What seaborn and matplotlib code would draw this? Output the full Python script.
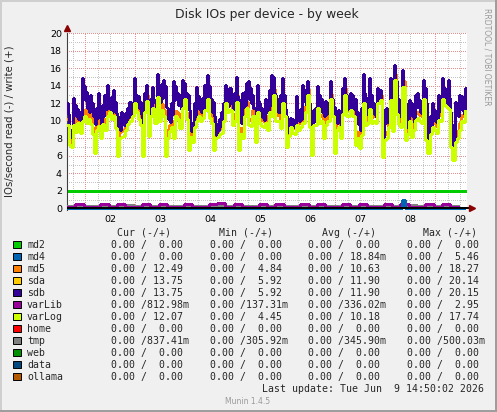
# disk_io_week.py
# Munin style "Disk IOs per device - by week" graph, redrawn with seaborn

import numpy as np
import pandas as pd
import matplotlib
matplotlib.use("Agg")
import matplotlib.pyplot as plt
from matplotlib.patches import Rectangle
import seaborn as sns

# ---- values ----
# sdb: one pair of readings per hour (peak and dip inside that hour),
# first hour starts at about 15:20 on the 1st
start_day = 1.64

sdb_peak = [
    12.0, 8.8, 9.0, 12.6, 11.8, 11.4, 11.0, 14.9, 14.0, 13.3, 12.5, 13.0, 12.0, 10.8, 11.5, 13.2, 10.3, 11.8, 13.0, 14.1, 12.5, 12.7, 13.5, 12.2,
    10.5, 10.0, 11.0, 10.3, 10.9, 11.5, 12.2, 11.6, 14.9, 13.0, 12.8, 12.2, 8.0, 13.2, 14.1, 11.0, 12.5, 13.9, 12.4, 15.4, 13.8, 14.2, 14.7, 14.0,
    11.5, 11.0, 12.0, 14.5, 14.0, 13.2, 13.0, 14.7, 14.3, 13.2, 13.0, 9.5, 9.8, 12.0, 13.9, 12.8, 12.4, 12.6, 14.1, 15.2, 14.0, 12.5, 12.2, 9.0,
    9.6, 10.2, 11.0, 12.0, 14.1, 13.0, 13.7, 12.8, 13.2, 15.0, 12.5, 11.0, 13.2, 13.3, 14.3, 14.5, 13.8, 13.0, 11.4, 14.1, 12.0, 11.5, 11.0, 12.5,
    12.4, 13.5, 15.2, 15.0, 13.0, 12.5, 13.0, 14.85, 13.0, 10.5, 9.0, 10.3, 10.2, 10.0, 12.8, 11.2, 11.4, 14.1, 13.5, 14.5, 12.0, 8.0, 11.2, 11.5,
    14.0, 13.0, 12.5, 12.2, 12.3, 12.0, 14.5, 12.5, 11.6, 11.0, 11.2, 10.2, 13.7, 14.85, 13.0, 12.6, 13.2, 13.0, 12.5, 11.0, 10.0, 11.5, 15.4, 12.0,
    12.6, 14.85, 13.0, 12.0, 11.5, 13.7, 13.5, 8.0, 11.2, 11.5, 10.9, 14.85, 11.2, 16.4, 14.5, 12.5, 11.6, 15.8, 12.0, 10.0, 12.4, 12.0, 11.0, 13.0,
    13.2, 12.4, 12.0, 14.7, 13.8, 8.1, 10.5, 12.0, 11.2, 11.0, 13.0, 12.5, 14.85, 13.7, 13.2, 14.7, 11.0, 7.0, 12.2, 12.0, 13.0, 12.8, 12.0, 13.7,
]
sdb_dip = [
    10.8, 8.2, 8.6, 10.9, 10.5, 10.2, 9.9, 12.6, 12.4, 11.5, 11.0, 11.6, 10.6, 9.6, 10.3, 11.2, 9.4, 10.5, 11.4, 12.2, 11.3, 11.0, 11.8, 10.9,
    9.2, 9.0, 9.8, 9.5, 9.9, 10.4, 10.8, 10.6, 12.8, 11.8, 11.5, 10.8, 7.6, 11.6, 12.3, 9.8, 11.2, 12.2, 11.0, 13.2, 12.2, 12.6, 12.8, 11.6,
    10.2, 9.9, 10.8, 12.4, 12.5, 11.8, 11.4, 12.8, 12.6, 11.8, 11.2, 8.8, 9.0, 10.6, 12.2, 11.4, 11.0, 11.2, 12.4, 13.0, 12.4, 11.0, 10.6, 8.4,
    8.9, 9.4, 9.9, 10.8, 12.2, 11.7, 12.0, 11.4, 11.8, 12.8, 11.0, 9.8, 11.6, 11.8, 12.6, 12.5, 12.0, 11.5, 10.2, 12.3, 10.8, 10.4, 10.1, 11.0,
    11.0, 11.8, 13.0, 13.2, 11.6, 11.0, 11.4, 12.6, 11.4, 9.2, 8.6, 9.4, 9.3, 9.2, 11.2, 10.0, 10.2, 12.3, 11.8, 12.6, 10.6, 7.5, 10.0, 10.2,
    12.2, 11.4, 11.0, 10.6, 10.8, 10.9, 12.6, 11.0, 10.4, 9.8, 10.0, 9.4, 12.0, 13.0, 11.6, 11.2, 11.8, 11.4, 10.8, 9.6, 9.0, 10.2, 13.2, 10.8,
    11.2, 12.8, 11.4, 10.8, 10.4, 12.0, 12.2, 7.4, 9.8, 10.2, 9.8, 12.6, 10.0, 14.2, 12.6, 11.0, 10.4, 13.6, 10.4, 9.2, 11.0, 10.6, 9.9, 11.6,
    11.6, 11.0, 10.8, 12.6, 12.0, 7.6, 9.4, 10.6, 10.0, 9.8, 11.4, 11.0, 12.8, 12.0, 11.8, 12.6, 9.6, 6.6, 10.8, 10.6, 11.4, 11.2, 10.8, 12.0,
]

# varLog and md5: one reading per hour
varLog = [
    9.5, 7.2, 7.0, 9.5, 8.7, 9.8, 8.6, 10.0, 10.5, 9.8, 10.2, 9.6, 8.5, 6.3, 9.0, 9.4, 8.0, 9.6, 9.0, 10.5, 11.0, 10.2, 10.5, 9.2,
    6.0, 8.0, 8.2, 8.3, 9.0, 9.6, 10.0, 10.5, 12.0, 11.0, 10.2, 9.5, 6.0, 11.0, 12.3, 8.3, 10.5, 11.5, 9.8, 12.7, 10.0, 11.2, 10.5, 6.0,
    8.0, 8.8, 9.3, 8.0, 10.5, 10.2, 9.2, 11.5, 12.5, 10.2, 6.7, 8.2, 7.6, 9.3, 10.0, 10.5, 10.0, 10.3, 11.2, 12.5, 10.3, 9.8, 6.7, 8.0,
    8.2, 8.5, 8.6, 10.0, 12.0, 11.0, 11.2, 9.5, 10.0, 12.2, 6.7, 8.5, 8.0, 10.5, 11.5, 9.5, 9.4, 10.5, 7.6, 11.0, 9.8, 9.4, 9.3, 9.8,
    9.0, 11.0, 10.5, 13.0, 10.0, 10.0, 9.2, 12.0, 10.5, 7.0, 8.3, 9.3, 8.6, 8.5, 9.5, 9.0, 9.3, 9.8, 11.0, 13.0, 9.3, 6.1, 9.5, 9.5,
    11.5, 9.8, 10.0, 8.0, 9.5, 10.0, 12.5, 10.5, 6.3, 9.0, 9.3, 8.0, 10.8, 13.0, 10.5, 10.6, 11.2, 10.5, 7.2, 8.0, 6.9, 8.4, 12.0, 9.5,
    9.7, 11.3, 9.7, 10.0, 9.8, 12.0, 12.4, 5.9, 7.8, 8.0, 9.3, 12.4, 8.8, 14.7, 10.8, 9.6, 9.3, 13.9, 7.8, 8.5, 10.0, 8.2, 9.0, 10.1,
    10.3, 10.0, 9.8, 12.5, 7.8, 6.3, 8.5, 9.3, 9.0, 8.6, 10.1, 10.0, 12.5, 11.8, 11.6, 11.4, 7.0, 5.5, 7.6, 8.0, 9.0, 10.0, 9.9, 11.2,
]
md5 = [
    10.2, 7.8, 7.6, 10.4, 9.3, 10.5, 9.4, 10.8, 11.2, 10.4, 10.9, 10.3, 9.2, 7.0, 9.7, 10.1, 8.7, 10.3, 9.8, 11.3, 11.6, 10.9, 11.2, 9.9,
    6.8, 8.7, 8.9, 9.0, 9.6, 10.3, 10.8, 11.1, 12.9, 11.7, 11.0, 10.1, 6.8, 11.8, 13.0, 9.0, 11.1, 12.2, 10.6, 13.4, 10.8, 11.9, 11.2, 6.9,
    8.9, 9.5, 10.0, 8.8, 11.1, 10.9, 10.0, 12.2, 13.1, 10.9, 7.4, 8.8, 8.4, 10.0, 10.8, 11.1, 10.7, 11.0, 11.8, 13.2, 11.0, 10.5, 7.5, 8.6,
    8.8, 9.2, 9.3, 10.7, 12.7, 11.7, 11.9, 10.2, 10.8, 12.9, 7.5, 9.2, 8.8, 11.2, 12.1, 10.2, 10.1, 11.2, 8.4, 11.7, 10.5, 10.1, 10.0, 10.6,
    9.8, 11.7, 11.3, 13.6, 10.8, 10.7, 9.9, 12.7, 11.2, 7.8, 8.9, 9.9, 9.3, 9.2, 10.2, 9.7, 10.0, 10.6, 11.7, 13.6, 10.0, 6.9, 10.2, 10.2,
    12.2, 10.5, 10.7, 8.8, 10.2, 10.8, 13.1, 11.2, 7.1, 9.7, 10.0, 8.7, 11.5, 13.7, 11.2, 11.3, 11.9, 11.2, 8.0, 8.7, 7.6, 9.1, 12.8, 10.2,
    10.4, 12.0, 10.4, 10.7, 10.5, 12.6, 13.0, 6.7, 8.5, 8.7, 10.0, 13.1, 9.6, 15.3, 11.6, 10.3, 10.0, 14.6, 8.6, 9.2, 10.7, 9.0, 9.7, 10.9,
    11.0, 10.7, 10.5, 13.2, 8.6, 7.0, 9.2, 10.0, 9.7, 9.4, 10.8, 10.7, 13.2, 12.5, 12.3, 12.1, 7.8, 6.2, 8.3, 8.8, 9.8, 10.7, 10.6, 11.9,
]

# small ones near zero, 4-hourly samples
varLib = [
    0.20, 0.45, 0.20, 0.20, 0.45, 0.20, 0.45, 0.20, 0.20, 0.45, 0.20, 0.45,
    0.20, 0.20, 0.45, 0.20, 0.20, 0.45, 0.55, 0.20, 0.45, 0.20, 0.20, 0.45,
    0.20, 0.45, 0.20, 0.20, 0.45, 0.20, 0.45, 0.20, 0.20, 0.45, 0.20, 0.45,
    0.20, 0.20, 0.45, 0.20, 0.45, 0.20, 0.20, 0.45, 0.20, 0.45, 0.20, 0.20,
]
tmp = [
    0.31, 0.32, 0.31, 0.30, 0.32, 0.31, 0.31, 0.33, 0.31, 0.30, 0.32, 0.31,
    0.31, 0.32, 0.31, 0.31, 0.30, 0.32, 0.33, 0.31, 0.31, 0.32, 0.31, 0.30,
    0.31, 0.32, 0.31, 0.31, 0.33, 0.31, 0.30, 0.32, 0.31, 0.31, 0.32, 0.31,
    0.31, 0.30, 0.32, 0.31, 0.31, 0.33, 0.31, 0.32, 0.31, 0.31, 0.30, 0.32,
]
# md4 only shows one short spike (hour index, value)
md4_hour = [0, 160, 161, 162, 191]
md4_val = [0.0, 0.0, 0.95, 0.0, 0.0]

limit_line = 2.0

days = [2, 3, 4, 5, 6, 7, 8, 9]
day_labels = ["02", "03", "04", "05", "06", "07", "08", "09"]

# legend table
names = ["md2", "md4", "md5", "sda", "sdb", "varLib", "varLog",
         "home", "tmp", "web", "data", "ollama"]
colors = ["#00cc00", "#0066b3", "#ff8000", "#ffcc00", "#330099", "#990099",
          "#ccff00", "#ff0000", "#808080", "#008f00", "#00487d", "#b35a00"]
cur = ["0.00 /  0.00", "0.00 /  0.00", "0.00 / 12.49", "0.00 / 13.75",
       "0.00 / 13.75", "0.00 /812.98m", "0.00 / 12.07", "0.00 /  0.00",
       "0.00 /837.41m", "0.00 /  0.00", "0.00 /  0.00", "0.00 /  0.00"]
mins = ["0.00 /  0.00", "0.00 /  0.00", "0.00 /  4.84", "0.00 /  5.92",
        "0.00 /  5.92", "0.00 /137.31m", "0.00 /  4.45", "0.00 /  0.00",
        "0.00 /305.92m", "0.00 /  0.00", "0.00 /  0.00", "0.00 /  0.00"]
avgs = ["0.00 /  0.00", "0.00 / 18.84m", "0.00 / 10.63", "0.00 / 11.90",
        "0.00 / 11.90", "0.00 /336.02m", "0.00 / 10.18", "0.00 /  0.00",
        "0.00 /345.90m", "0.00 /  0.00", "0.00 /  0.00", "0.00 /  0.00"]
maxs = ["0.00 /  0.00", "0.00 /  5.46", "0.00 / 18.27", "0.00 / 20.14",
        "0.00 / 20.15", "0.00 /  2.95", "0.00 / 17.74", "0.00 /  0.00",
        "0.00 /500.03m", "0.00 /  0.00", "0.00 /  0.00", "0.00 /  0.00"]
headers = ["Cur (-/+)", "Min (-/+)", "Avg (-/+)", "Max (-/+)"]

# ---- figure ----
sns.set_theme(style="white")
plt.rcParams['font.family'] = ['DejaVu Sans']
mono = "DejaVu Sans Mono"

W, H = 497, 412
fig = plt.figure(figsize=(W / 100, H / 100), dpi=100, facecolor="#f0f0f0")


def fx(x):
    return x / W


def fy(y):
    return 1 - y / H


ymin, ymax = -0.2, 20.0
px_per_unit = 8.75
top_px = 33.3
bot_px = 208.3 - ymin * px_per_unit
ax = fig.add_axes([fx(67), fy(bot_px), 400 / W, (bot_px - top_px) / H])
ax.set_facecolor("white")

col = dict(zip(names, colors))
lw_data = 0.8

# grid, rrdtool style dotted lines
grid_gray = "#c4c4c4"
grid_red = "#e88e8e"
for v in range(1, 21):
    ax.axhline(v, color=grid_red if v % 2 == 0 else grid_gray, lw=0.72,
               ls=(0, (1, 2)), antialiased=False, zorder=1)
for q in np.arange(1.75, 9.64, 0.25):
    is_day = abs(q - round(q)) < 1e-6
    ax.axvline(q, color=grid_red if is_day else grid_gray, lw=0.72,
               ls=(0, (1, 2)), antialiased=False, zorder=1)

ax.axhline(limit_line, color="#00cc00", lw=0.8, antialiased=False, zorder=2)

# main series
n = len(sdb_peak)
half = start_day + np.arange(2 * n) / 48
sdb = np.column_stack([sdb_peak, sdb_dip]).ravel()
halfhourly = pd.DataFrame({"t": half, "sda": sdb, "sdb": sdb})
hourly = pd.DataFrame({"t": start_day + np.arange(n) / 24,
                       "md5": md5, "varLog": varLog})

sns.lineplot(data=hourly, x="t", y="md5", color=col["md5"], estimator=None,
             drawstyle="steps-post", linewidth=lw_data, antialiased=False,
             ax=ax, zorder=3)
long = halfhourly.melt(id_vars="t", var_name="series", value_name="ios")
sns.lineplot(data=long, x="t", y="ios", hue="series", hue_order=["sda", "sdb"],
             palette={"sda": col["sda"], "sdb": col["sdb"]}, estimator=None,
             drawstyle="steps-post", linewidth=lw_data, antialiased=False,
             legend=False, ax=ax, zorder=3)
sns.lineplot(data=hourly, x="t", y="varLog", color=col["varLog"],
             estimator=None, drawstyle="steps-post", linewidth=lw_data,
             antialiased=False, ax=ax, zorder=3)

# series near zero
small = pd.DataFrame({
    "t": start_day + np.arange(len(tmp)) * 4 / 24,
    "varLib": varLib, "tmp": tmp,
})
small_long = small.melt(id_vars="t", var_name="series", value_name="ios")
sns.lineplot(data=small_long, x="t", y="ios", hue="series",
             hue_order=["tmp", "varLib"],
             palette={"varLib": col["varLib"], "tmp": col["tmp"]},
             estimator=None, drawstyle="steps-post", linewidth=lw_data,
             antialiased=False, legend=False, ax=ax, zorder=3)
sns.lineplot(x=start_day + np.array(md4_hour) / 24, y=md4_val,
             color=col["md4"], estimator=None, drawstyle="steps-post",
             linewidth=lw_data, antialiased=False, ax=ax, zorder=4)

# zero line / axes
ax.axhline(0, color="black", lw=1.4, zorder=5)
ax.set_xlim(start_day, start_day + 8)
ax.set_ylim(ymin, ymax)
for s in ["top", "right", "bottom"]:
    ax.spines[s].set_visible(False)
ax.spines["left"].set_color("#404040")
ax.spines["left"].set_linewidth(0.8)
ax.plot([start_day], [20.55], marker="^", ms=4, color="#8b0000",
        clip_on=False, zorder=6)
ax.plot([start_day + 8.1], [0], marker=">", ms=4, color="#8b0000",
        clip_on=False, zorder=6)
ax.plot([start_day + 8, start_day + 8.08], [0, 0], color="black", lw=1.4,
        clip_on=False, zorder=5)

ax.set_yticks(range(0, 21, 2))
ax.set_xticks([d + 0.5 for d in days])
ax.set_xticklabels(day_labels)
ax.tick_params(axis="y", length=0, pad=3.6, labelsize=6.8, colors="black")
ax.tick_params(axis="x", length=0, pad=3.8, labelsize=6.8, colors="black")
ax.set_xlabel("")
ax.set_ylabel("")

# titles
fig.text(fx(267), fy(18.3), "Disk IOs per device - by week", ha="center",
         va="baseline", fontsize=8.9)
fig.text(fx(10), fy((top_px + 208.3) / 2), "IOs/second read (-) / write (+)",
         rotation=90, ha="center", va="center", fontsize=7.3)
fig.text(fx(487), fy(57), "RRDTOOL / TOBI OETIKER", rotation=270,
         ha="center", va="center", fontsize=5.5, color="#999999")

# legend table
head_x = [116.7, 219, 321.7, 423]
val_x = [111, 210, 308, 407]
for hx, h in zip(head_x, headers):
    fig.text(fx(hx), fy(232.7), h, ha="left", va="center", fontsize=7.1,
             family=mono)
for i, name in enumerate(names):
    yc = 244.7 + 12 * i
    fig.patches.append(Rectangle((fx(13.3), fy(yc + 3.7)), 7.4 / W, 7.4 / H,
                                 transform=fig.transFigure, facecolor=colors[i],
                                 edgecolor="black", lw=0.7))
    fig.text(fx(27), fy(yc), name, ha="left", va="center", fontsize=7.1,
             family=mono)
    for vx, txt in zip(val_x, [cur[i], mins[i], avgs[i], maxs[i]]):
        fig.text(fx(vx), fy(yc), txt, ha="left", va="center", fontsize=7.1,
                 family=mono)

fig.text(fx(484), fy(389.3), "Last update: Tue Jun  9 14:50:02 2026",
         ha="right", va="center", fontsize=7.1, family=mono)
fig.text(fx(248), fy(401), "Munin 1.4.5", ha="center", va="center",
         fontsize=5.5, color="#999999")

# rrdtool 3d frame
for (x0, y0, w, h, c) in [(0, 0, W, 2, "#cfcfcf"), (0, 0, 2, H, "#cfcfcf"),
                          (0, H - 2, W, 2, "#9e9e9e"), (W - 2, 0, 2, H, "#9e9e9e")]:
    fig.patches.append(Rectangle((fx(x0), fy(y0 + h)), w / W, h / H,
                                 transform=fig.transFigure, facecolor=c,
                                 edgecolor="none"))

fig.savefig("out.png", dpi=100, facecolor=fig.get_facecolor())
